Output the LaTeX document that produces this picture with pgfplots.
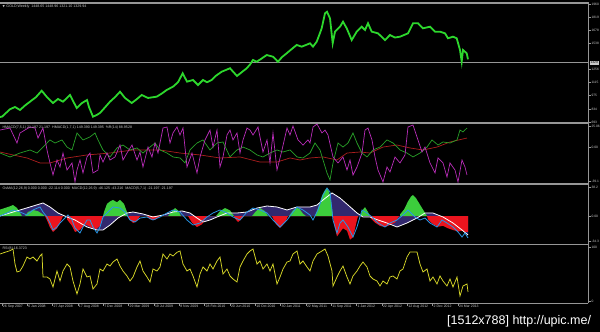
\documentclass[border=0pt]{standalone}
\usepackage{pgfplots}
\pgfplotsset{compat=1.18}
\usepackage{pgfplotstable}
\usepackage{fontspec}
\setmainfont{Liberation Sans}
\newfontfamily\dejavu{DejaVu Sans}
\definecolor{sep}{RGB}{150,150,150}
\definecolor{lbl}{RGB}{200,200,200}
\definecolor{price}{RGB}{45,215,45}
\definecolor{mag}{RGB}{185,45,185}
\definecolor{grn}{RGB}{40,160,40}
\definecolor{dred}{RGB}{170,30,30}
\definecolor{hgreen}{RGB}{60,205,60}
\definecolor{hred}{RGB}{235,20,30}
\definecolor{hpurp}{RGB}{50,40,110}
\definecolor{mcyan}{RGB}{40,150,230}
\definecolor{ryel}{RGB}{215,215,40}

\pgfplotstableread{
x y
0 0.1
3 1.3
20 7.5
30 11.2
43 16.1
50 11.2
58 3.8
67 -1.1
75 -4.8
87 -13.4
97 -17.1
103 -17.1
110 -11.0
118 -2.4
127 3.8
133 5.0
143 2.6
153 -1.1
163 1.3
173 5.0
182 6.3
190 3.8
197 -2.4
203 -7.3
210 -4.8
217 -1.1
227 3.8
237 3.8
247 5.0
257 9.9
267 12.4
277 11.2
287 7.5
297 11.2
303 11.2
310 11.2
317 13.6
323 19.8
332 28.4
340 22.2
348 13.6
357 3.8
363 -1.1
370 -1.1
378 -4.8
387 -8.5
397 -13.4
407 -8.5
417 -2.4
425 3.8
433 3.8
443 -1.1
453 -8.5
462 -17.1
468 -23.2
}\whiteT

\pgfplotsset{
 panel/.style={
  scale only axis, width=588pt, xmin=0, xmax=588,
  axis background/.style={fill=black},
  axis y line*=right,
  axis line style={draw=sep, line width=0.8pt},
  ytick align=outside, major tick length=2.5pt,
  tick style={draw=sep, line width=0.5pt},
  yticklabel style={font=\fontsize{3.3}{3.8}\selectfont, text=lbl, inner sep=0.8pt},
  anchor=north west,
 },
}
\tikzset{ptext/.style={font=\fontsize{3.6}{4}\selectfont, text=lbl, anchor=north west, inner sep=0pt}}

\begin{document}
\begin{tikzpicture}
\fill[black] (0pt,0pt) rectangle (600pt,332pt);

% ---------------- main price panel
\begin{axis}[panel, axis x line=none, at={(0pt,329pt)}, height=120pt, ymin=682.3, ymax=1970.7,
  ytick={693,834,975,1115,1256,1538,1678,1819,1960},
  yticklabels={693,834,975,1115,1256,1538,1678,1819,1960}]
\addplot[sep, line width=0.6pt] coordinates {(0,1329.94) (588,1329.94)};
\addplot[price, line width=1.8pt] coordinates {
(0,747) (2,750) (6,790) (10,830) (15,854) (20,822) (25,870) (30,911) (36,960)
(41.7,1029) (47,960) (53,897) (58,940) (63,911) (70,983) (76.7,843) (82,897)
(87,929) (89,854) (93,750) (97,770) (100,790) (105,850) (110,911) (115,960)
(120,1018) (125,951) (131.7,897) (137,940) (141.7,983) (148,951) (156.7,965)
(162,1000) (166.7,1037) (173,1072) (178,1120) (182.7,1216) (187,1126) (193,1144)
(198,1090) (203,1144) (207,1120) (211.7,1144) (216,1190) (221.7,1233) (230,1270)
(237,1187) (242,1230) (246.7,1270) (250,1310) (253,1359) (256.7,1340) (261,1370)
(266.7,1412) (273,1394) (278,1340) (282,1390) (286.7,1431) (291,1470) (296.7,1520)
(301.7,1502) (306,1520) (310,1538) (313,1502) (316.7,1555) (319,1620) (321.7,1699)
(325,1860) (327,1877) (330,1806) (332.7,1538) (335,1663) (340,1716) (343,1770)
(346.7,1699) (351.7,1573) (356.7,1663) (361.7,1716) (365,1681) (368,1753)
(371.7,1663) (378,1645) (385,1573) (390,1627) (395,1600) (400,1609) (408,1645)
(413,1753) (418,1753) (423,1699) (430,1716) (435,1663) (440,1663) (445,1645)
(448,1592) (453,1609) (456.7,1592) (460,1466) (461.7,1340) (463,1466) (466.7,1431)
(468,1366)};
\coordinate (pbox) at (axis cs:588,1329.94);
\node[ptext] at (axis description cs:0.004,0.985) {{\dejavu\fontsize{3}{3}\selectfont ▼}\, GOLD,Weekly\ \ 1448.65 1448.96 1321.10 1329.94};
\end{axis}
\node[anchor=west, fill=lbl, text=black, font=\fontsize{3.3}{3.8}\selectfont, inner sep=0.8pt] at ([xshift=1.5pt]pbox) {1329};

% ---------------- panel 2
\begin{axis}[panel, axis x line=none, at={(0pt,209pt)}, height=61pt, ymin=-40.19, ymax=26.15,
  ytick={22.12,0,-36.93}, yticklabels={25.06,0.00,-39.1}]
\addplot[dred, line width=0.7pt] coordinates {
(0,-5.4) (13,-8.6) (27,-11.9) (40,-17.3) (50,-17.3) (67,-11.9) (87,-8.6) (110,-6.5)
(133,-3.2) (160,-3.2) (180,-6.5) (200,-8.6) (220,-11.9) (240,-10.8) (260,-16.3)
(277,-16.3) (290,-11.9) (300,-14.1) (310,-11.9) (323,-10.8) (337,-14.1) (347,-6.5)
(360,-5.4) (370,-6.5) (383,0.0) (397,2.2) (410,-1.0) (423,-3.2) (437,0.0) (450,5.5)
(467,9.8)};
\addplot[grn, line width=0.7pt] coordinates {
(0,-6.5) (10,-10.8) (20,-6.5) (30,-3.2) (37,-6.5) (43,0.0) (50,7.7) (55,4.4) (62,7.7)
(67,0.0) (72,-3.2) (77,15.3) (83,7.7) (90,11.0) (95,15.3) (98,7.7) (103,-3.2)
(110,-10.8) (117,-1.0) (123,2.2) (130,-3.2) (137,-1.0) (143,-6.5) (150,0.0) (155,4.4)
(160,-3.2) (167,-6.5) (173,-10.8) (180,-11.9) (185,-17.3) (190,-3.2) (197,4.4)
(203,7.7) (210,-3.2) (217,4.4) (223,5.5) (230,-10.8) (237,-3.2) (243,0.0) (250,-3.2)
(257,-8.6) (263,-10.8) (270,-6.5) (277,-3.2) (283,-5.4) (290,-3.2) (297,-10.8)
(303,-11.9) (310,-6.5) (315,4.4) (320,-3.2) (327,-28.2) (330,-35.8) (333,-17.3)
(338,4.4) (343,0.0) (348,4.4) (353,15.3) (357,4.4) (362,-6.5) (367,-10.8) (373,-3.2)
(380,0.0) (387,7.7) (393,4.4) (400,-3.2) (407,-6.5) (413,-10.8) (420,-6.5) (427,0.0)
(432,7.7) (438,2.2) (443,5.5) (450,4.4) (457,7.7) (460,18.5) (463,16.4) (467,20.7)};
\addplot[mag, line width=0.7pt] coordinates {
(0,18.5) (10,20.7) (17,4.4) (20,15.3) (30,21.8) (35,20.7) (38,9.8) (43,20.7)
(47,-3.2) (50,-17.3) (53,-30.4) (57,-14.1) (60,-21.7) (63,-6.5) (67,-25.0) (72,-17.3)
(75,-38.0) (77,-25.0) (80,-14.1) (83,-28.2) (87,-10.8) (90,-6.5) (93,-28.2) (98,-25.0)
(100,-8.6) (103,-16.3) (107,-6.5) (110,-14.1) (115,-10.8) (120,2.2) (123,-14.1)
(127,-6.5) (132,2.2) (137,-14.1) (140,-5.4) (143,-21.7) (148,0.0) (152,-10.8)
(155,4.4) (158,-6.5) (163,20.7) (167,21.8) (170,4.4) (173,15.3) (177,21.8) (180,13.1)
(183,20.7) (187,-21.7) (192,-6.5) (197,-28.2) (200,-10.8) (205,7.7) (210,18.5)
(213,0.0) (217,18.5) (220,-21.7) (223,-10.8) (227,13.1) (230,18.5) (233,7.7)
(237,15.3) (240,-6.5) (243,7.7) (247,20.7) (250,18.5) (253,13.1) (258,21.8)
(263,-5.4) (267,7.7) (270,-17.3) (273,15.3) (277,-25.0) (282,-3.2) (287,20.7)
(290,13.1) (293,22.9) (298,7.7) (303,2.2) (308,7.7) (310,4.4) (313,21.8) (317,25.0)
(322,15.3) (325,18.5) (328,13.1) (333,-10.8) (338,-17.3) (343,-10.8) (347,-25.0)
(350,-14.1) (353,-30.4) (357,-21.7) (362,-6.5) (365,18.5) (368,20.7) (372,7.7)
(375,-10.8) (378,-25.0) (383,-38.0) (387,-21.7) (390,-27.1) (395,-10.8) (400,-17.3)
(405,-8.6) (408,21.8) (413,24.0) (418,7.7) (422,-5.4) (425,0.0) (430,-17.3)
(435,-28.2) (438,-11.9) (443,-17.3) (447,-32.6) (450,-17.3) (455,-25.0) (458,-38.0)
(462,-14.1) (465,-21.7) (467,-30.4)};
\node[ptext] at (axis description cs:0.004,0.95) {HMACD(7,5,1) 21.197 21.197\ \ HMACD(1,7,1) 149.390 149.395\ \ \%R(14) 88.9528};
\end{axis}

% ---------------- panel 3
\begin{axis}[panel, axis x line=none, at={(0pt,148pt)}, height=60.5pt, ymin=-34.91, ymax=39.43,
  ytick={34.88,0,-31.47}, yticklabels={38.2,0.00,-34.3}]
\addplot[fill=hpurp, draw=none] table {\whiteT} \closedcycle;
\addplot[fill=hgreen, draw=none] coordinates {
(0,0) (0,8) (5,10) (10,12) (13,13.6) (17,10) (20,4) (22,0) (25,0) (28,5) (33,7.5)
(38,6) (43,2) (45,0) (103,0) (104,5) (107,15) (110,18) (113,19.8) (117,17) (120,20)
(124,15) (127,5) (128,0) (168,0) (172,6) (175,9.9) (178,7) (181,0) (216,0) (220,6)
(225,9.9) (230,7) (234,0) (252,0) (256,6) (260,9.9) (265,6) (268,0) (289,0) (293,7)
(297,10.5) (300,8) (303,3) (306,0) (315,0) (318,10) (322,25) (325,32) (327,34.5)
(329,30) (331,18) (333,0) (360,0) (363,8) (365,11) (368,5) (370,0) (400,0) (400,2)
(404,8) (408,18) (411,24) (413,25.9) (416,22) (420,14) (424,6) (427,0)} \closedcycle;
\addplot[fill=hred, draw=none] coordinates {
(45,0) (47,-5) (50,-14) (53,-19.5) (57,-15) (60,-8) (63,0) (67,0) (67,-4) (72,-12)
(75,-19.5) (80,-17) (85,-10) (90,-13) (95,-17) (100,-12) (103,0) (128,0) (129,-3)
(133,-8.5) (137,-6) (140,0) (147,0) (150,-4) (155,-4.8) (160,0) (188,0) (192,-8)
(197,-13.4) (202,-10) (207,0) (234,0) (235,-3) (238,-7.3) (242,-3) (244,0) (272,0)
(276,-10) (280,-14.6) (285,-8) (288,0) (333,0) (334,-10) (337,-25) (340,-20)
(343,-15) (347,-18) (350,-29) (353,-26) (356,-10) (358,0) (370,0) (371,-3) (375,-8)
(380,-12) (385,-13.4) (390,-11) (395,-8) (399,0) (427,0) (428,-4) (433,-10)
(438,-13) (443,-12) (448,-15) (453,-17) (458,-19) (462,-18) (465,-19.5) (468,-19.5)} \closedcycle;
\addplot[white, line width=0.8pt] table {\whiteT};
\addplot[mcyan, line width=0.8pt] coordinates {
(0,0.1) (7,3.8) (13,7.5) (20,5.0) (27,1.3) (33,7.5) (40,11.2) (43,5.0) (47,-1.1)
(50,-8.5) (53,-17.1) (57,-13.4) (60,-8.5) (65,-2.4) (68,1.3) (72,-4.8) (75,-14.6)
(80,-20.8) (83,-13.4) (87,-4.8) (90,-4.8) (93,-13.4) (97,-20.8) (100,-13.4)
(103,-1.1) (107,3.8) (113,11.2) (120,9.9) (125,5.0) (130,-4.8) (135,-7.3) (140,-2.4)
(147,-1.1) (153,-4.8) (160,-1.1) (167,3.8) (173,7.5) (180,5.0) (187,-4.8) (193,-11.0)
(200,-8.5) (207,-1.1) (213,3.8) (220,7.5) (227,3.8) (233,-1.1) (240,-4.8) (247,5.0)
(253,9.9) (260,7.5) (267,3.8) (273,-4.8) (280,-13.4) (287,-4.8) (293,5.0) (297,11.2)
(303,7.5) (310,1.3) (313,-4.8) (318,7.5) (323,25.9) (327,34.5) (330,29.6) (333,-4.8)
(337,-20.8) (340,-8.5) (343,-4.8) (348,-13.4) (353,-25.7) (357,-13.4) (362,7.5)
(367,3.8) (372,-1.1) (378,-8.5) (385,-13.4) (390,-8.5) (397,-4.8) (403,1.3) (408,7.5)
(415,-1.1) (420,-4.8) (425,-2.4) (430,-8.5) (437,-13.4) (442,-4.8) (447,-8.5)
(453,-13.4) (458,-19.5) (462,-25.7) (465,-20.8) (468,-26.9)};
\node[ptext] at (axis description cs:0.004,0.95) {OsMA(12,26,9) 0.000 0.000 -22.114 0.000\ \ MACD(12,26,9) -46.125 -43.216\ \ MACD(5,7,1) -21.197 -21.197};
\end{axis}

% ---------------- panel 4 RSI
\begin{axis}[panel, at={(0pt,87.5pt)}, height=59pt, ymin=-0.85, ymax=100.86,
  axis x line*=bottom, xtick align=outside,
  ytick={95.3,2.25}, yticklabels={100,0},
  xtick={2,27.33,52.67,78,103.33,128.67,154,179.33,204.67,230,255.33,280.67,306,331.33,356.67,382,407.33,432.67,458},
  xticklabels={26 Sep 2007,6 Jan 2008,27 Apr 2008,17 Aug 2008,7 Dec 2008,29 Mar 2009,19 Jul 2009,8 Nov 2009,28 Feb 2010,20 Jun 2010,10 Oct 2010,30 Jan 2011,22 May 2011,11 Sep 2011,1 Jan 2012,22 Apr 2012,12 Aug 2012,2 Dec 2012,24 Mar 2013},
  xticklabel style={font=\fontsize{3.5}{4}\selectfont, text=lbl, anchor=north west, inner sep=0pt, xshift=0.8pt, yshift=0.8pt}]
\addplot[ryel, line width=0.75pt] coordinates {
(0,84.5) (5,87.4) (10,90.2) (13,93.1) (15,67.2) (17,53.5) (20,55.2) (23,63.8) (27,79.3)
(30,75.9) (33,79.3) (37,72.4) (40,81.0) (42,84.5) (43,44.8) (47,44.8) (50,41.4)
(53,27.6) (57,55.2) (60,37.9) (63,55.2) (67,67.2) (70,62.1) (73,37.9) (77,15.5)
(80,32.8) (83,58.6) (87,44.8) (90,46.6) (93,24.1) (97,32.8) (100,58.6) (103,55.2)
(107,67.2) (110,63.8) (113,70.7) (117,75.9) (120,63.8) (123,55.2) (127,46.6)
(130,37.9) (133,44.8) (137,62.1) (140,72.4) (143,55.2) (147,44.8) (150,36.2)
(153,58.6) (157,55.2) (160,62.1) (163,84.5) (167,75.9) (170,84.5) (173,81.0)
(177,87.4) (180,89.7) (183,67.2) (187,55.2) (190,58.6) (193,46.6) (197,27.6)
(200,50.0) (203,62.1) (207,55.2) (210,67.2) (213,58.6) (217,72.4) (220,79.3)
(223,50.0) (227,58.6) (230,46.6) (233,41.4) (237,36.2) (240,62.1) (243,72.4)
(247,84.5) (250,89.7) (253,93.1) (257,67.2) (260,72.4) (263,58.6) (267,67.2)
(270,55.2) (273,67.2) (277,32.8) (280,44.8) (283,58.6) (287,70.7) (290,72.4)
(293,84.5) (297,89.7) (300,67.2) (303,72.4) (307,62.1) (310,55.2) (313,72.4)
(317,84.5) (322,89.7) (325,93.1) (328,81.0) (332,55.2) (333,29.3) (337,44.8)
(340,55.2) (343,63.8) (347,44.8) (350,32.8) (353,46.6) (357,55.2) (360,63.8)
(363,70.7) (367,62.1) (370,46.6) (373,41.4) (377,37.9) (380,29.3) (383,37.9)
(387,32.8) (390,44.8) (393,46.6) (397,41.4) (400,55.2) (403,58.6) (407,79.3)
(410,87.9) (413,87.9) (417,87.9) (420,67.2) (423,53.5) (427,58.6) (430,37.9)
(433,44.8) (437,32.8) (440,46.6) (443,37.9) (447,29.3) (450,41.4) (453,27.6)
(457,44.8) (460,12.1) (463,29.3) (467,32.8) (468,19.0)};
\node[ptext] at (axis description cs:0.004,0.97) {RSI(8) 16.3723};
\end{axis}

% separators
\draw[sep, line width=1.6pt] (0pt,329pt) -- (588.5pt,329pt);
\draw[sep, line width=1.6pt] (0pt,209pt) -- (588.5pt,209pt);
\draw[sep, line width=1.6pt] (0pt,148pt) -- (588.5pt,148pt);
\draw[sep, line width=1.6pt] (0pt,87.5pt) -- (588.5pt,87.5pt);
\draw[sep, line width=0.8pt] (588.5pt,329.8pt) -- (588.5pt,28.5pt);

\node[anchor=base west, text=white, font=\fontsize{12.5}{14}\selectfont, inner sep=0pt] at (447pt,7pt) {[1512x788] http://upic.me/};

\pgfresetboundingbox
\useasboundingbox (0pt,0pt) rectangle (600pt,332pt);
\end{tikzpicture}
\end{document}
